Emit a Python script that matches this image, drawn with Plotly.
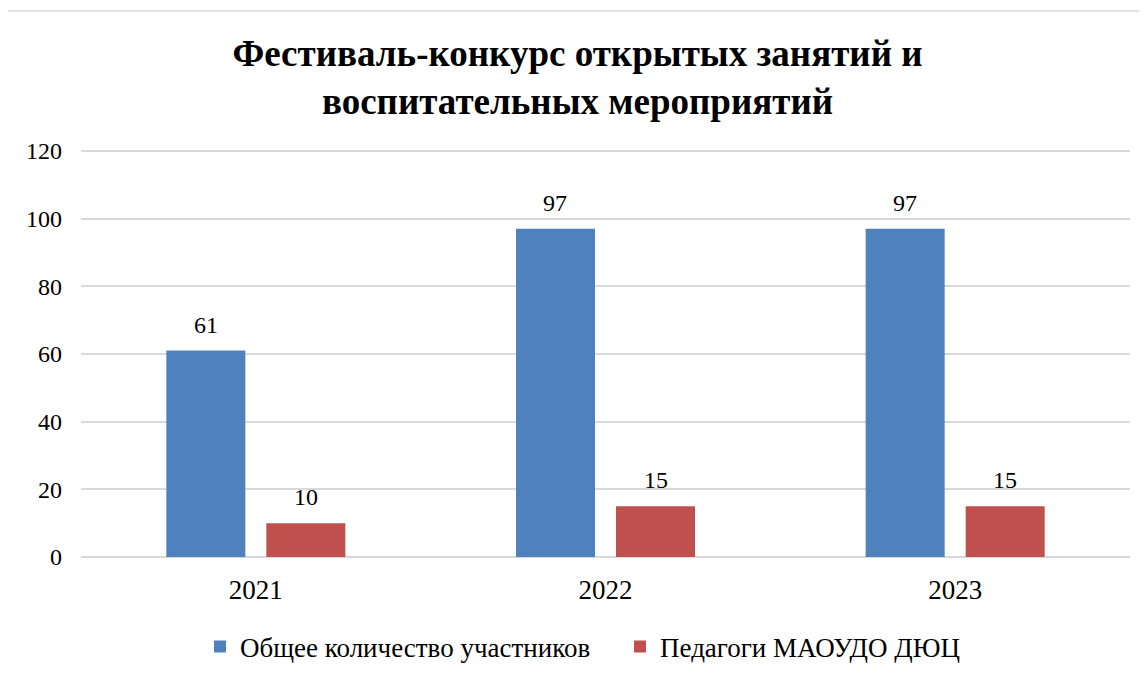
import plotly.graph_objects as go

categories = ["2021", "2022", "2023"]
series_names = ["Общее количество участников", "Педагоги МАОУДО ДЮЦ"]
total_participants = [61, 97, 97]
teachers = [10, 15, 15]
y_ticks = [0, 20, 40, 60, 80, 100, 120]
title_text = "Фестиваль-конкурс открытых занятий и<br>воспитательных мероприятий"

FONT = "Liberation Serif, Times New Roman, serif"
colors = ["#4F81BD", "#C0504D"]
series_values = [total_participants, teachers]

# page body has an 8px margin; compensate
OFF = 8
W, H = 1147 - OFF, 675 - OFF
L, T = 81 - OFF, 150 - OFF
R = W - (1130 - OFF)
B = H - (557 - OFF)
pw = W - L - R
ph = H - T - B
BARGAP = 0.428
BARGROUPGAP = 0.21

fig = go.Figure()
for name, vals, col in zip(series_names, series_values, colors):
    fig.add_trace(go.Bar(
        x=categories, y=vals, name=name,
        marker=dict(color=col, line=dict(width=0)),
    ))

# data labels placed above each bar (category axis: positions by category index)
slot = pw / len(categories) * (1 - BARGAP) / len(series_values)
annotations = []
for k, vals in enumerate(series_values):
    shift = (k - (len(series_values) - 1) / 2) * slot
    for i, v in enumerate(vals):
        annotations.append(dict(
            x=i, y=v, xref="x", yref="y", text=str(v), showarrow=False,
            xshift=shift, yshift=26, yanchor="middle", xanchor="center",
            font=dict(family=FONT, size=24, color="#000000"),
        ))

fig.update_layout(
    width=W, height=H,
    margin=dict(l=L, r=R, t=T, b=B, autoexpand=False),
    paper_bgcolor="white", plot_bgcolor="white",
    barmode="group", bargap=BARGAP, bargroupgap=BARGROUPGAP,
    font=dict(family=FONT, color="#000000"),
    title=dict(text=title_text, x=0.5, xanchor="center", y=1 - (66 - OFF) / H, yanchor="middle",
               font=dict(family=FONT, size=37, color="#000000", weight="bold")),
    showlegend=True,
    legend=dict(orientation="h", x=(200 - 81) / pw, xanchor="left", yref="container",
                y=1 - (647 - OFF) / H, yanchor="middle",
                entrywidth=375, entrywidthmode="pixels",
                font=dict(family=FONT, size=27, color="#000000"),
                traceorder="normal"),
    xaxis=dict(type="category", showgrid=False, showline=False, ticks="", zeroline=False,
               automargin=False, ticklabelstandoff=14,
               tickfont=dict(family=FONT, size=27, color="#000000")),
    yaxis=dict(range=[0, 120.3], tickvals=y_ticks, showgrid=True, gridcolor="#D9D9D9", gridwidth=1.5,
               zeroline=True, zerolinecolor="#D9D9D9", zerolinewidth=1.5, showline=False, ticks="",
               ticklabelstandoff=18, automargin=False,
               tickfont=dict(family=FONT, size=24, color="#000000")),
    annotations=annotations,
    shapes=[
        dict(type="line", xref="paper", yref="paper", x0=(7 - 81) / pw, x1=(1200 - 81) / pw,
             y0=(557 - 11) / ph, y1=(557 - 11) / ph, line=dict(color="#D9D9D9", width=1.5)),
        dict(type="line", xref="paper", yref="paper", x0=(7 - 81) / pw, x1=(7 - 81) / pw,
             y0=(557 - 11) / ph, y1=(557 - 720) / ph, line=dict(color="#D9D9D9", width=1.5)),
    ],
)

fig.write_html("out.html")
